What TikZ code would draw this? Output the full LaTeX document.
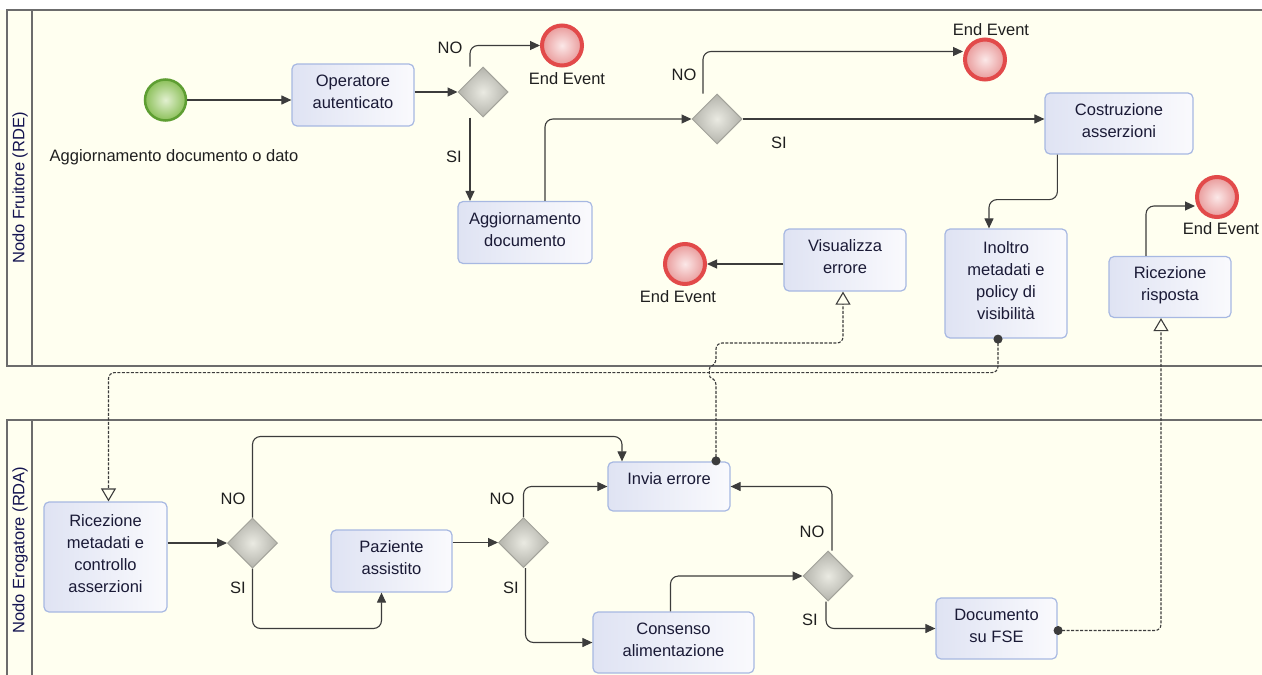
\documentclass[tikz,border=0pt]{standalone}
\usepackage{fontspec}
\setmainfont{Liberation Sans}
\usetikzlibrary{shapes.geometric,arrows.meta}
\definecolor{lanebg}{HTML}{FFFFF0}
\definecolor{poolline}{HTML}{6C6C6C}
\definecolor{taskedge}{HTML}{A7B8E2}
\definecolor{taskL}{HTML}{DFE3F3}
\definecolor{taskR}{HTML}{FAFAFD}
\definecolor{tasktext}{HTML}{1A1A36}
\definecolor{gwedge}{HTML}{A3A39B}
\definecolor{gwin}{HTML}{EAEAE2}
\definecolor{gwout}{HTML}{B4B4AC}
\definecolor{endedge}{HTML}{E24A4A}
\definecolor{endin}{HTML}{FBE8E8}
\definecolor{endout}{HTML}{E99A9A}
\definecolor{startedge}{HTML}{5E9E32}
\definecolor{startin}{HTML}{E2F0D0}
\definecolor{startout}{HTML}{8CC05A}
\definecolor{wire}{HTML}{3C3C3C}
\definecolor{lanetext}{HTML}{141450}
\newcommand\diagfont{\fontsize{16.5}{22}\selectfont}
\begin{document}
\begin{tikzpicture}[x=1pt,y=-1pt,
  pool/.style={draw=poolline,line width=1.6pt},
  lanelabel/.style={rotate=90,font=\diagfont,text=lanetext,inner sep=0pt},
  task/.style={rectangle,rounded corners=5pt,draw=taskedge,line width=1.2pt,
    left color=taskL,right color=taskR,align=center,font=\diagfont,
    text=tasktext,inner sep=2pt},
  gw/.style={diamond,minimum width=50pt,minimum height=50pt,inner sep=0pt,
    draw=gwedge,line width=1pt,inner color=gwin,outer color=gwout},
  endev/.style={circle,minimum size=40pt,inner sep=0pt,line width=4pt,
    draw=endedge,inner color=endin,outer color=endout},
  startev/.style={circle,minimum size=41pt,inner sep=0pt,line width=2.5pt,
    draw=startedge,inner color=startin,outer color=startout},
  lbl/.style={font=\diagfont,text=black!88,inner sep=0pt},
  flow/.style={draw=wire,line width=1.1pt,rounded corners=8pt,
    -{Triangle[length=10pt,width=9pt]}},
  msg/.style={draw=wire,line width=1.1pt,rounded corners=6pt,
    dash pattern=on 3pt off 1.5pt,
    {Circle[length=9pt,sep=-4pt]}-{Triangle[open,length=13pt,width=15pt,line width=1.1pt]}}
]
\useasboundingbox (0,0) rectangle (1262,675);
\fill[white] (0,0) rectangle (1262,675);
\fill[lanebg] (0,10) rectangle (1262,675);

% pools and lane headers
\draw[pool] (1262,10) -- (7,10) -- (7,366) -- (1262,366);
\draw[pool] (32,10) -- (32,366);
\draw[pool] (1262,420) -- (7,420) -- (7,675);
\draw[pool] (32,420) -- (32,675);
\node[lanelabel] (laneA) at (20,188) {Nodo Fruitore (RDE)};
\node[lanelabel] (laneB) at (20,550) {Nodo Erogatore (RDA)};

% upper lane: events
\node[startev] (start) at (165.5,100) {};
\node[lbl] (startlbl) at (174,157) {Aggiornamento documento o dato};
\node[endev] (end1) at (562,45.5) {};
\node[lbl] (end1lbl) at (567,79) {End Event};
\node[endev] (end2) at (985,59.5) {};
\node[lbl] (end2lbl) at (991,30) {End Event};
\node[endev] (end3) at (685,264) {};
\node[lbl] (end3lbl) at (678,297) {End Event};
\node[endev] (end4) at (1217,197) {};
\node[lbl] (end4lbl) at (1221,229) {End Event};

% upper lane: tasks and gateways
\node[task,minimum width=122pt,minimum height=62pt,text depth=6pt] (op) at (353,95) {Operatore\\autenticato};
\node[gw] (g1) at (483,92) {};
\node[task,minimum width=134pt,minimum height=62pt,text depth=6pt] (agg) at (525,232.5) {Aggiornamento\\documento};
\node[gw] (g2) at (717,119) {};
\node[task,minimum width=148pt,minimum height=61pt,text depth=6pt] (cost) at (1119,123.5) {Costruzione\\asserzioni};
\node[task,minimum width=122pt,minimum height=109pt,text depth=6pt] (ino) at (1006,283.5) {Inoltro\\metadati e\\policy di\\visibilità};
\node[task,minimum width=122pt,minimum height=62pt,text depth=6pt] (vis) at (845,260) {Visualizza\\errore};
\node[task,minimum width=122pt,minimum height=61pt,text depth=6pt] (ric) at (1170,287) {Ricezione\\risposta};

% lower lane: tasks and gateways
\node[task,minimum width=123pt,minimum height=110pt,text depth=6pt] (ricm) at (105.5,557) {Ricezione\\metadati e\\controllo\\asserzioni};
\node[gw] (g3) at (252.5,543) {};
\node[task,minimum width=121pt,minimum height=62pt,text depth=6pt] (paz) at (391.5,561) {Paziente\\assistito};
\node[gw] (g4) at (523.5,542.5) {};
\node[task,minimum width=122pt,minimum height=49pt,text depth=15.5pt] (inv) at (669,486.5) {Invia errore};
\node[task,minimum width=161pt,minimum height=61pt,text depth=6pt] (cons) at (673.5,642.5) {Consenso\\alimentazione};
\node[gw] (g5) at (828,576) {};
\node[task,minimum width=121pt,minimum height=61pt,text depth=6pt] (doc) at (996.5,628.5) {Documento\\su FSE};

% gateway labels
\node[lbl] (n1) at (450,48) {NO};
\node[lbl] (s1) at (454,157) {SI};
\node[lbl] (n2) at (684,75) {NO};
\node[lbl] (s2) at (779,143) {SI};
\node[lbl] (n3) at (233,499) {NO};
\node[lbl] (s3) at (238,588) {SI};
\node[lbl] (n4) at (502,499) {NO};
\node[lbl] (s4) at (511,588) {SI};
\node[lbl] (n5) at (812,532) {NO};
\node[lbl] (s5) at (810,620) {SI};

% sequence flows, upper lane
\draw[flow] (start) -- (start -| op.west);
\draw[flow] (op.east |- g1) -- (g1.west);
\draw[flow] ([xshift=-13pt]g1.north) |- (end1.west);
\draw[flow] ([xshift=-13pt]g1.south) -- ([xshift=-13pt]g1.south |- agg.north);
\draw[flow] ([xshift=20pt]agg.north) |- (g2.west);
\draw[flow] ([xshift=-14pt]g2.north) |- ([yshift=8pt]end2.west);
\draw[flow] (g2.east) -- (g2.east -| cost.west);
\draw[flow] ([xshift=13pt]cost.south west) -- ++(0,45) -| ([xshift=-17pt]ino.north);
\draw[flow] (vis.west |- end3) -- (end3.east);
\draw[flow] ([xshift=-24pt]ric.north) |- ([yshift=-9pt]end4.west);

% sequence flows, lower lane
\draw[flow] (ricm.east |- g3) -- (g3.west);
\draw[flow] (g3.north) -- ++(0,-81) -| ([xshift=-47pt]inv.north);
\draw[flow] (g3.south) -- ++(0,60) -| ([xshift=-10pt]paz.south);
\draw[flow] (paz.east |- g4) -- (g4.west);
\draw[flow] (g4.north) |- (inv.west);
\draw[flow] ([xshift=2pt]g4.south) |- (cons.west);
\draw[flow] ([xshift=-3pt]cons.north) |- (g5.west);
\draw[flow] ([xshift=4pt]g5.north) |- (inv.east);
\draw[flow] ([xshift=-2pt]g5.south) |- (doc.west);

% message flows between the two nodes
\draw[msg] ([xshift=-8pt]ino.south) -- ++(0,34) -| ([xshift=3pt]ricm.north);
\draw[msg] ([xshift=47pt]inv.north) -- (716,379)
  .. controls (709,377) and (709,367) .. (716,365)
  -- (716,343) -| ([xshift=-2pt]vis.south);
\draw[msg] ([yshift=-2pt]doc.east) -| ([xshift=-9pt]ric.south);
\end{tikzpicture}
\end{document}
